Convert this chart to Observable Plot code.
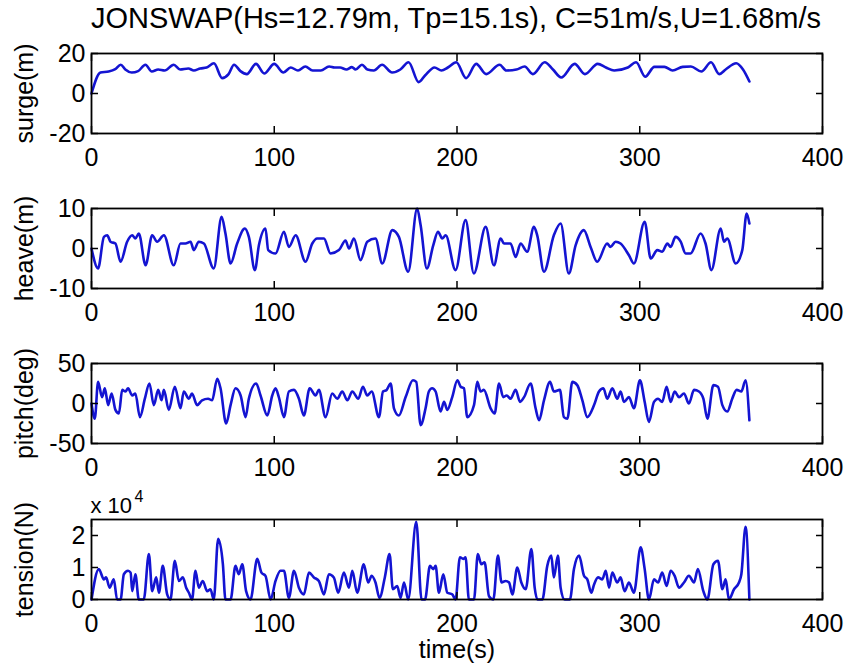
<!DOCTYPE html>
<html><head><meta charset="utf-8">
<script src="https://cdn.jsdelivr.net/npm/d3@7"></script>
<script src="https://cdn.jsdelivr.net/npm/@observablehq/plot@0.6"></script>
<style>
body{margin:0;background:#fff;}
#chart{position:relative;width:849px;height:667px;overflow:hidden;font-family:"Liberation Sans",Arial,sans-serif;background:#fff;}
#title{position:absolute;left:56px;width:800px;top:2px;text-align:center;font-size:29px;line-height:32px;color:#000;white-space:nowrap;}
.panel{position:absolute;left:0;}
</style></head><body>
<div id="chart"><div id="title"></div></div>
<script>
const titleText = "JONSWAP(Hs=12.79m, Tp=15.1s), C=51m/s,U=1.68m/s";
const xLabel = "time(s)";
const xTicks = [0, 100, 200, 300, 400];

// surge (m)
const surgeT = [0,4.9,9.4,13,16,18.5,22,25.5,29.5,33,36.5,40,45,48.5,53,56,59.5,63,67,71.5,75,78,81.5,85,90,94.5,100,105,109,113,117,121,125.5,130,133,136,139.5,142.5,144.5,148,151,154.5,159,164.5,169,173.5,179,182.5,187.7,191.5,195,199.6,205,210.5,216,223.3,227,232.5,237,241.5,248,252.5,257,264.4,270,277,281.5,286,293.5,298,303,308,313.5,318,323.5,328,333.7,339,343.5,347,352.8,356.5,360];
const surgeV = [0,10.5,11,12.2,14.4,12,10.5,11.2,14.4,11,12,11.5,14.4,12,12.5,11.5,12.5,13,15.1,7.7,9.7,14.4,11.2,9.7,14.8,10,14.8,10.5,13,11.5,13.5,11.5,11.5,13.5,13,13,12,13.2,12,14.4,12,11.5,14.4,10.5,12,15.6,5.7,9,13,11.5,13,15.6,7.7,14.8,9.7,14.4,11.5,12,13.5,9.7,15.6,12,8,14.8,9.7,14.8,13,11.5,13,15.6,8.4,13.3,13.3,11.5,13.3,13.5,11,15.6,9.7,12,15.1,12,6];
const surgeTicks = [-20, 0, 20];

// heave (m)
const heaveT = [0,3.6,6.8,8.6,10.4,13.1,15.9,19.5,22.3,24,25.9,29.6,33.2,35.9,39.6,45,48.7,51.4,54.2,56,58.7,61.5,66.9,71.2,73.3,76.1,79.7,83.9,86.1,89.4,91.6,95.2,96.7,100.7,105.3,108,111.7,117.1,120.8,123.5,127.2,130.8,135.4,139,140.9,143.6,147.2,150.9,155.4,159.1,164.6,168.2,173.3,178.2,180.1,183.5,187,189.6,191.9,193.8,199.2,204.7,209.2,215.7,220.2,223.9,225.7,229.3,232.1,234.8,238.4,242.1,243.9,247.6,253,256.7,261.2,264.9,269.4,273.1,276.7,282.2,284,286.8,289.5,294.1,296.8,302.7,306,309.6,312.3,315.1,316.9,319.6,322.4,325.1,327.8,333.3,336,339.2,344.3,346.1,347.9,352.5,356.1,358.5,360];
const heaveV = [0,-5,2.9,3.3,1.7,1.25,-3.3,1.7,3.3,2.5,3.75,-4.2,3.3,1.7,3.3,-4.2,1.25,1.25,1.7,-0.4,1.7,1.25,-5,7.9,3.75,-3.75,1.25,5,2.9,-5.4,0.8,5,-0.4,-1.25,4.2,0.4,3.3,-3.3,1.25,2.5,2.5,-1.25,-0.4,2,0,2.5,-2.9,1.7,2.5,-3.75,4.6,2.9,-5.8,10,5.8,-5,0.8,4.2,2.5,3.3,-5.4,7.1,-6.25,5.4,-4.2,2.5,1.25,1.25,-2.1,1.25,-0.8,5.4,3.3,-5.8,3.3,6.25,-6.25,0.8,4.6,0.4,-3.3,1.25,0.4,1.7,1.25,-1.7,-3.75,6.7,-2.5,-0.4,-0.8,1.25,0.4,2.9,1.7,-1.25,-1.25,3.75,1.25,-5.4,5,1.7,2.5,-3.75,-0.4,8.75,6.25];
const heaveTicks = [-10, 0, 10];

// pitch (deg)
const pitchT = [0,1.8,3.6,5.8,7.3,9.1,11,13.1,15,16.8,18.6,20,22.3,24,26.5,29.2,31.7,34.1,36.5,38.3,39.6,42.3,45.6,48.7,50.5,53.3,55,57.8,60.5,63.8,66,68.8,70.6,73.7,76.1,78.8,81.6,84.3,86.1,90.1,92.5,96.2,98.9,100.7,102.5,105.3,108,110.8,113.5,116.2,119.4,122.6,124.4,128.1,131.7,134.5,137.2,140,142.7,146,148.5,150.9,153.3,157.3,159.5,161.5,163.7,165.5,168.2,171.9,175.9,177.7,180.1,182.8,184.6,186.4,188.3,191,192.9,194.7,197.4,200.2,202,203.8,205.6,209.3,211.1,212.9,214.7,218.4,220.6,223,225.3,227.2,229.3,232.1,234.5,236.7,240.3,243,244.9,247.6,250.9,253,256.3,258.5,260.4,263.1,265.8,268.6,271.3,275,277.7,280.1,282.2,285,287.7,289.5,291.4,294.1,296.8,300.1,302.7,305,307.8,310,312.3,314.7,316.9,319.1,321.5,324.2,326.9,329.7,332.4,334.8,337,340.3,342.8,345.2,347.9,350.6,353,355.6,357.9,360];
const pitchV = [0,-19,27,8,19,-2,12.5,-8,-12.5,17,15,19,10,12.5,-17,6,25,-2,17,4,17,-8,21,-6,15,6,12.5,-2,4,6,4,31,19,-25,-2,19,10,-17,6,25,10,-15,10,19,8,-17,15,17,6,-15,19,10,17,-17,12.5,6,15,4,15,6,21,10,15,-17,15,17,25,-6,-15,8,29,27,-27,-6,15,19,15,-10,2,-8,8,29,21,19,-17,-2,27,15,17,-6,-12.5,25,8,10,6,17,2,8,25,-6,-21,4,27,15,17,-17,-19,27,23,4,-17,-2,15,19,6,19,6,15,2,8,-6,29,2,-23,2,6,2,21,2,15,8,12.5,0,17,15,6,-19,23,21,-2,-10,6,17,15,29,-21];
const pitchTicks = [-50, 0, 50];

// tension (x 10^4 N)
const tensionT = [0,4,6.8,8,9.9,12.2,14,15.9,17.7,20,21.4,22.3,24,25.9,28.6,31.4,33.2,35.4,36.9,39,41.4,43.2,45.6,47.8,50,51.8,53.3,55,56.9,58.7,60.9,63.3,65.1,66.9,69.3,71.9,73.3,76.1,78.8,80.6,82.5,84.6,87,90.7,93,95.2,98,100.7,103.4,105.3,108,110.8,113.5,116.2,119,121.7,124.4,127.2,129.9,132.6,135,138.1,140.9,142.7,145.4,149,151.4,153.3,155.4,157.6,160.5,163.1,164.9,167.3,169.1,171,173.3,177.7,180.6,182.5,185.2,187,188.3,190.1,192.5,194.7,197.4,199.2,201.6,203.4,204.7,206.5,209.3,211.4,213.3,215.1,217.5,219.9,222.4,224.4,226.6,228.5,230.3,233,235.2,237.6,240.7,242.5,244,246.7,249.4,251.6,253,255.2,256.7,258.9,261.8,264,266.8,269.5,271.3,273.5,275,277.2,279.5,281.4,283.2,285,287.7,289.5,291.7,294.1,296.8,300.5,302.7,305,307.8,310,312.3,314.7,316.9,319.1,321.5,324.2,326.9,329.7,331.8,334.8,337,340.3,342.8,345.2,347,348.8,351.6,354.3,355.6,357.9,360];
const tensionV = [0,0.95,0.63,0.69,0.37,0.63,0,0,0.79,0.9,0.84,0.26,0.79,0,0,1.42,0.26,0.69,0.21,1.05,0.16,0,1.21,0.58,0.69,0.37,0.21,0,0.9,0.37,0.58,0.26,0.32,0,1.9,1.1,0,0,1.05,0.79,1.1,0.26,0,1.27,0.84,0.74,0,0.58,0.9,0.9,0.05,0.9,0.37,0.16,0.84,0.69,0.58,0.16,0.79,0.69,0.21,0.84,0.37,0.9,0.21,1.1,0.53,0.74,0.53,0.05,0.69,1.42,0.32,0.42,0.05,0.53,0,2.43,0,0,1.05,0.95,1.05,0.21,0.79,0.21,0.16,0,1.32,1.27,1.32,0,0,1.42,1.1,1.16,0.1,0,1.37,0.53,0.58,0.53,0.16,1.0,0.53,0.32,1.58,0.37,0,0,1.05,1.37,0.69,1.37,0.37,0,0,0.95,1.37,0.74,0.63,0.21,0.47,0.69,0.63,0.9,0.37,0.84,0.53,0.69,0.26,0.53,0.21,1.63,0.95,0,0.63,0.53,0.84,0.42,0.9,0.74,0.37,0.53,0.74,0.53,0.95,0.26,0,1.1,1.21,0.32,0.63,0,0.32,0.53,0.79,2.27,0];
const tensionTicks = [0, 1, 2];
const tensionMultiplier = "x 10";
const tensionExponent = "4";

const panels = [
  {t: surgeT, v: surgeV, domain: [-20, 20], ticks: surgeTicks, label: "surge(m)", boxTop: 53},
  {t: heaveT, v: heaveV, domain: [-10, 10], ticks: heaveTicks, label: "heave(m)", boxTop: 208},
  {t: pitchT, v: pitchV, domain: [-50, 50], ticks: pitchTicks, label: "pitch(deg)", boxTop: 363},
  {t: tensionT, v: tensionV, domain: [0, 2.5], ticks: tensionTicks, label: "tension(N)", boxTop: 519, last: true}
];

document.getElementById("title").textContent = titleText;

const FONT = "Liberation Sans, Arial, Helvetica, sans-serif";
const LINE = "#1414d2";
const fmt = d => String(d);

const chart = document.getElementById("chart");
for (const p of panels) {
  const mt = 30, h = 80, mb = p.last ? 75 : 45;
  const data = p.t.map((t, i) => ({t, v: p.v[i]}));
  const marks = [
    Plot.line(data, {x: "t", y: "v", curve: "monotone-x", stroke: LINE, strokeWidth: 2.6, strokeLinejoin: "round", strokeLinecap: "round"}),
    // inward tick marks on all four sides
    Plot.axisX(xTicks, {anchor: "bottom", tickSize: 7, dy: -7, fill: "none", stroke: "#000", strokeWidth: 1.5, label: null}),
    Plot.axisX(xTicks, {anchor: "top", tickSize: 7, dy: 7, fill: "none", stroke: "#000", strokeWidth: 1.5, label: null}),
    Plot.axisY(p.ticks, {anchor: "left", tickSize: 7, dx: 7, fill: "none", stroke: "#000", strokeWidth: 1.5, label: null}),
    Plot.axisY(p.ticks, {anchor: "right", tickSize: 7, dx: -7, fill: "none", stroke: "#000", strokeWidth: 1.5, label: null}),
    // tick labels
    Plot.axisX(xTicks, {anchor: "bottom", tickSize: 0, tickPadding: 15, fontSize: 25, fill: "#000", tickFormat: fmt, label: null}),
    Plot.axisY(p.ticks, {anchor: "left", tickSize: 0, tickPadding: 6, fontSize: 25, fill: "#000", tickFormat: fmt, label: null}),
    Plot.frame({stroke: "#000", strokeWidth: 1.8}),
    Plot.text([p.label], {frameAnchor: "left", textAnchor: "middle", lineAnchor: "middle", rotate: -90, dx: -67, fontSize: 25, fill: "#000"})
  ];
  if (p.last) {
    marks.push(Plot.text([tensionMultiplier], {frameAnchor: "top-left", textAnchor: "start", lineAnchor: "bottom", dx: -1, dy: -7, fontSize: 22, fill: "#000"}));
    marks.push(Plot.text([tensionExponent], {frameAnchor: "top-left", textAnchor: "start", lineAnchor: "bottom", dx: 43, dy: -18, fontSize: 16, fill: "#000"}));
    marks.push(Plot.text([xLabel], {frameAnchor: "bottom", textAnchor: "middle", lineAnchor: "middle", dy: 50, fontSize: 25, fill: "#000"}));
  }
  const svg = Plot.plot({
    width: 849, height: mt + h + mb,
    marginLeft: 91, marginRight: 27, marginTop: mt, marginBottom: mb,
    style: {fontFamily: FONT, fontSize: "25px", background: "transparent", color: "#000", overflow: "visible"},
    x: {domain: [0, 400], label: null},
    y: {domain: p.domain, label: null},
    marks
  });
  const wrap = document.createElement("div");
  wrap.className = "panel";
  wrap.style.top = (p.boxTop - mt) + "px";
  wrap.appendChild(svg);
  chart.appendChild(wrap);
}
</script>
</body></html>
